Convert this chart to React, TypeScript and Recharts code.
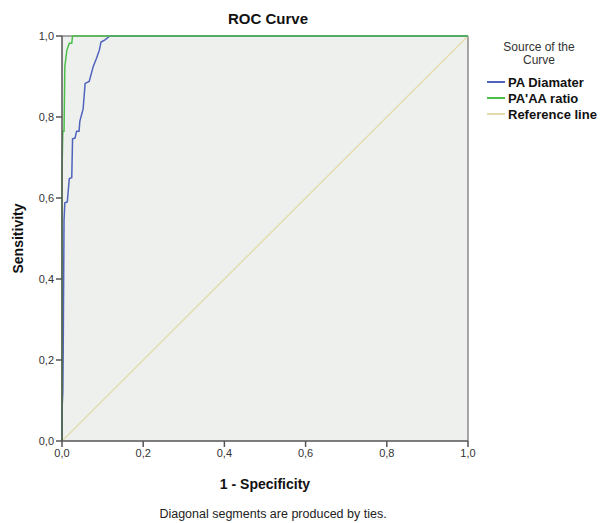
import React from "react";
import {
  ComposedChart,
  Line,
  XAxis,
  YAxis,
  CartesianGrid,
  ReferenceLine,
} from "recharts";

const diameterFpr = [0, 0, 0.002, 0.003, 0.005, 0.007, 0.013, 0.018, 0.024, 0.026, 0.032, 0.036, 0.042, 0.044, 0.052, 0.057, 0.067, 0.077, 0.085, 0.092, 0.096, 0.105, 0.118, 1];
const diameterTpr = [0, 0.075, 0.12, 0.225, 0.545, 0.588, 0.59, 0.648, 0.65, 0.746, 0.748, 0.765, 0.765, 0.79, 0.82, 0.883, 0.888, 0.925, 0.945, 0.965, 0.985, 0.99, 1, 1];

const ratioFpr = [0, 0, 0.002, 0.005, 0.007, 0.012, 0.018, 0.024, 0.026, 1];
const ratioTpr = [0, 0.665, 0.765, 0.765, 0.925, 0.965, 0.982, 0.982, 1, 1];

const referenceFpr = [0, 1];
const referenceTpr = [0, 1];

const axisTicks = [0, 0.2, 0.4, 0.6, 0.8, 1];

const seriesNames = ["PA Diamater", "PA'AA ratio", "Reference line"];
const seriesColors = ["#4f63bd", "#4cbf4a", "#e3dba9"];

const toPoints = (xs: number[], ys: number[]) => xs.map((x, i) => ({ x, y: ys[i] }));

const fmt = (v: number) => v.toFixed(1).replace(".", ",");

const FONT = "'Liberation Sans', Arial, sans-serif";

// legend drawn beside the chart, SPSS style
const LegendBox = () => (
  <div style={{ position: "absolute", top: 41, left: 487, fontFamily: FONT, color: "#111" }}>
    <div style={{ textAlign: "center", width: 104, fontSize: 12, lineHeight: "12.5px", color: "#333" }}>
      Source of the
      <br />
      Curve
    </div>
    {seriesNames.map((name, i) => (
      <div key={name} style={{ display: "flex", alignItems: "center", height: 16, fontSize: 13, marginTop: i === 0 ? 8 : 0 }}>
        <span style={{ display: "inline-block", width: 18, height: 2, background: seriesColors[i], marginRight: 3 }} />
        <span style={{ fontWeight: "bold" }}>{name}</span>
      </div>
    ))}
  </div>
);

export default function App() {
  const diameter = toPoints(diameterFpr, diameterTpr);
  const ratio = toPoints(ratioFpr, ratioTpr);
  const reference = toPoints(referenceFpr, referenceTpr);

  return (
    <div style={{ position: "absolute", left: 0, top: 0, width: 602, height: 523, background: "#fff", fontFamily: FONT }}>
      <div style={{ position: "absolute", top: 10, left: 0, width: 536, textAlign: "center", fontSize: 15, fontWeight: "bold", color: "#111" }}>
        ROC Curve
      </div>
      <ComposedChart
        width={602}
        height={523}
        margin={{ top: 36, right: 134, left: 0, bottom: 0 }}
      >
        <CartesianGrid fill="#eef0ee" horizontal={false} vertical={false} />
        <XAxis
          dataKey="x"
          type="number"
          domain={[0, 1]}
          ticks={axisTicks}
          tickFormatter={fmt}
          height={82}
          allowDuplicatedCategory={false}
          stroke="#555"
          strokeWidth={1.5}
          tickSize={6}
          tick={{ fill: "#333", fontSize: 11, fontFamily: FONT }}
          label={{ value: "1 - Specificity", position: "center", dy: 2, fill: "#111", fontSize: 14, fontWeight: "bold", fontFamily: FONT }}
        />
        <YAxis
          dataKey="y"
          type="number"
          domain={[0, 1]}
          ticks={axisTicks}
          tickFormatter={fmt}
          width={62}
          stroke="#555"
          strokeWidth={1.5}
          tickSize={6}
          tick={{ fill: "#333", fontSize: 11, fontFamily: FONT }}
          label={{ value: "Sensitivity", angle: -90, position: "center", dx: -13, fill: "#111", fontSize: 14, fontWeight: "bold", fontFamily: FONT }}
        />
        <ReferenceLine x={1} stroke="#8a8a8a" strokeWidth={1.5} />
        <ReferenceLine y={1} stroke="#8a8a8a" strokeWidth={1.5} />
        <Line data={reference} dataKey="y" type="linear" stroke={seriesColors[2]} strokeWidth={1.3} dot={false} isAnimationActive={false} name={seriesNames[2]} />
        <Line data={diameter} dataKey="y" type="linear" stroke={seriesColors[0]} strokeWidth={1.5} dot={false} isAnimationActive={false} name={seriesNames[0]} />
        <Line data={ratio} dataKey="y" type="linear" stroke={seriesColors[1]} strokeWidth={1.5} dot={false} isAnimationActive={false} name={seriesNames[1]} />
      </ComposedChart>
      <LegendBox />
      <div style={{ position: "absolute", top: 507, left: 0, width: 546, textAlign: "center", fontSize: 12.5, color: "#222" }}>
        Diagonal segments are produced by ties.
      </div>
    </div>
  );
}
